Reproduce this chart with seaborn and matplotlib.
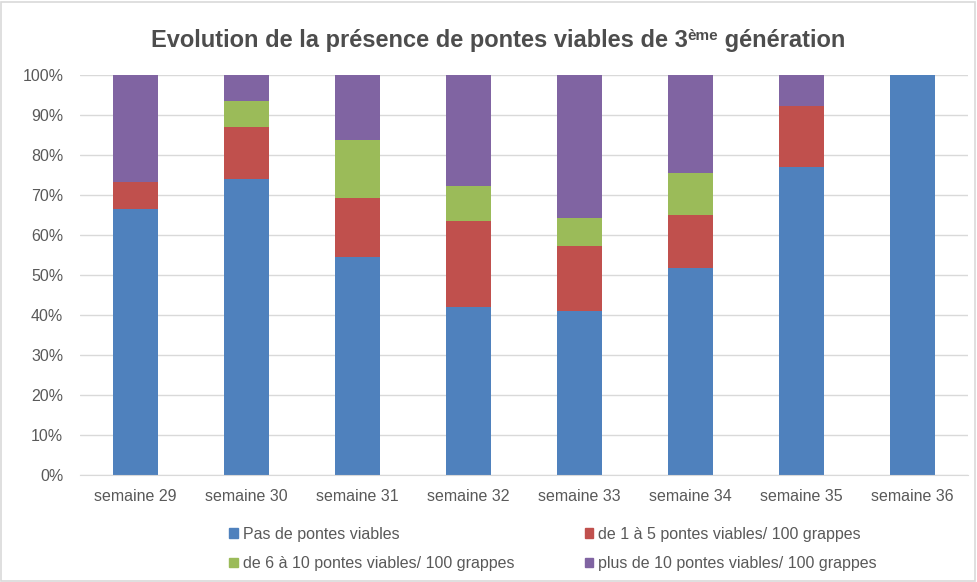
import matplotlib
matplotlib.use("Agg")
import matplotlib.pyplot as plt
import matplotlib.patches as mpatches
from matplotlib.ticker import PercentFormatter
import numpy as np
import seaborn as sns

weeks = ["semaine 29", "semaine 30", "semaine 31", "semaine 32",
         "semaine 33", "semaine 34", "semaine 35", "semaine 36"]
pas_de_pontes = [66.5, 74.1, 54.5, 42.0, 41.0, 51.7, 77.0, 100.0]
de_1_a_5 = [6.7, 12.9, 14.7, 21.6, 16.2, 13.3, 15.3, 0.0]
de_6_a_10 = [0.0, 6.5, 14.6, 8.7, 7.0, 10.6, 0.0, 0.0]
plus_de_10 = [26.8, 6.5, 16.2, 27.7, 35.8, 24.4, 7.7, 0.0]

series = [
    ("Pas de pontes viables", pas_de_pontes, "#4f81bd"),
    ("de 1 à 5 pontes viables/ 100 grappes", de_1_a_5, "#c0504d"),
    ("de 6 à 10 pontes viables/ 100 grappes", de_6_a_10, "#9bbb59"),
    ("plus de 10 pontes viables/ 100 grappes", plus_de_10, "#8064a2"),
]

sns.set_style("white")
plt.rcParams["font.family"] = ["Liberation Sans", "DejaVu Sans"]
grey = "#595959"

fig = plt.figure(figsize=(9.77, 5.82), dpi=100)
ax = fig.add_axes([80 / 977, 107 / 582, 888 / 977, 400 / 582])

bottom = np.zeros(len(weeks))
for name, vals, col in series:
    sns.barplot(x=weeks, y=vals, bottom=bottom, color=col, width=0.4,
                ax=ax, linewidth=0, saturation=1)
    bottom += np.array(vals)

ax.set_ylim(0, 100)
ax.set_xlim(-0.5, len(weeks) - 0.5)
ax.yaxis.set_major_locator(plt.MultipleLocator(10))
ax.yaxis.set_major_formatter(PercentFormatter(decimals=0))
ax.grid(axis="y", color="#d9d9d9", linewidth=1)
ax.set_axisbelow(True)
for s in ["top", "right", "left"]:
    ax.spines[s].set_visible(False)
ax.spines["bottom"].set_color("#d9d9d9")
ax.tick_params(axis="both", length=0, colors=grey, labelsize=11.5)
ax.tick_params(axis="x", pad=10)
ax.tick_params(axis="y", pad=12)

# title with superscript
fig.canvas.draw()
r = fig.canvas.get_renderer()
tcol = "#4d4d4d"
tkw = dict(fontsize=17, fontweight="bold", color=tcol, va="baseline")
part1 = "Evolution de la présence de pontes viables de 3"
part2 = "ème"
part3 = " génération"
t1 = fig.text(0, 0, part1, **tkw)
t2 = fig.text(0, 0, part2, fontsize=11, fontweight="bold", color=tcol, va="baseline")
t3 = fig.text(0, 0, part3, **tkw)
w1 = t1.get_window_extent(r).width
w2 = t2.get_window_extent(r).width
w3 = t3.get_window_extent(r).width
total = w1 + w2 + w3
x0 = (498 - total / 2)
ybase = 582 - 47
t1.set_position((x0 / 977, ybase / 582))
t2.set_position(((x0 + w1) / 977, (ybase + 7) / 582))
t3.set_position(((x0 + w1 + w2) / 977, ybase / 582))

handles = [mpatches.Patch(color=c, label=n) for n, v, c in series]
order = [0, 2, 1, 3]
fig.legend([handles[i] for i in order], [series[i][0] for i in order],
           ncol=2, loc="center", bbox_to_anchor=(553 / 977, 33 / 582),
           frameon=False, fontsize=11.5, labelcolor=grey,
           handlelength=0.55, handleheight=0.55, handletextpad=0.3,
           columnspacing=4.4, labelspacing=0.9)

fig.patches.append(mpatches.Rectangle((0.001, 0.002), 0.997, 0.995,
                                      transform=fig.transFigure, fill=False,
                                      edgecolor="#d9d9d9", linewidth=1.2))

fig.savefig("out.png", dpi=100)
